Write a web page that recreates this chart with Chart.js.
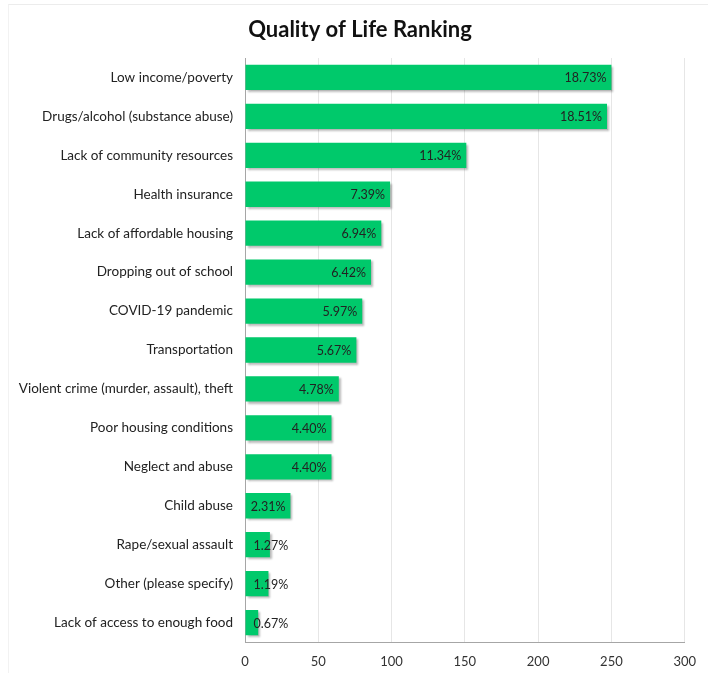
<!DOCTYPE html>
<html>
<head>
<meta charset="utf-8">
<script src="https://cdn.jsdelivr.net/npm/chart.js@4"></script>
<style>
  html, body { margin: 0; padding: 0; background: #fff; }
  #wrap { position: relative; width: 708px; height: 673px; }
  #frame { position: absolute; left: 8px; top: 4px; right: 0; bottom: 0; border-top: 1px solid #ececec; border-left: 1px solid #f2f2f2; pointer-events: none; }
  canvas { position: absolute; left: 0; top: 0; }
</style>
</head>
<body>
<div id="wrap">
  <canvas id="chart" width="708" height="673"></canvas>
  <div id="frame"></div>
</div>
<script>
// --- data ---
const chartTitle = 'Quality of Life Ranking';
const categories = [
    'Low income/poverty',
    'Drugs/alcohol (substance abuse)',
    'Lack of community resources',
    'Health insurance',
    'Lack of affordable housing',
    'Dropping out of school',
    'COVID-19 pandemic',
    'Transportation',
    'Violent crime (murder, assault), theft',
    'Poor housing conditions',
    'Neglect and abuse',
    'Child abuse',
    'Rape/sexual assault',
    'Other (please specify)',
    'Lack of access to enough food'
];
const counts = [250, 247, 151, 99, 93, 86, 80, 76, 64, 59, 59, 31, 17, 16, 9];
const percentLabels = ['18.73%', '18.51%', '11.34%', '7.39%', '6.94%', '6.42%', '5.97%', '5.67%',
    '4.78%', '4.40%', '4.40%', '2.31%', '1.27%', '1.19%', '0.67%'];
const xTicks = [0, 50, 100, 150, 200, 250, 300];

const fontFamily = 'Lato, "Open Sans", sans-serif';

// shadow under the bars
const barShadow = {
    id: 'barShadow',
    beforeDatasetsDraw(chart) {
        const ctx = chart.ctx;
        ctx.save();
        ctx.shadowColor = 'rgba(0, 0, 0, 0.28)';
        ctx.shadowOffsetX = 2;
        ctx.shadowOffsetY = 2;
        ctx.shadowBlur = 2;
    },
    afterDatasetsDraw(chart) {
        chart.ctx.restore();
    }
};

// title (drawn a bit right of the canvas centre, as in the original)
const titleText = {
    id: 'titleText',
    afterDraw(chart) {
        const ctx = chart.ctx;
        ctx.save();
        ctx.font = 'bold 22px ' + fontFamily;
        ctx.fillStyle = '#111';
        ctx.textAlign = 'center';
        ctx.textBaseline = 'middle';
        ctx.fillText(chartTitle, 360, 30);
        ctx.restore();
    }
};

// percent labels, inside end or at the base when the bar is short
const valueLabels = {
    id: 'valueLabels',
    afterDraw(chart) {
        const ctx = chart.ctx;
        const meta = chart.getDatasetMeta(0);
        ctx.save();
        ctx.font = '12.5px ' + fontFamily;
        ctx.fillStyle = '#222';
        ctx.textBaseline = 'middle';
        meta.data.forEach((bar, i) => {
            const txt = percentLabels[i];
            const w = ctx.measureText(txt).width;
            const len = bar.x - bar.base;
            if (len - 10 >= w) {
                ctx.textAlign = 'right';
                ctx.fillText(txt, bar.x - 5, bar.y + 1);
            } else {
                ctx.textAlign = 'left';
                ctx.fillText(txt, bar.base + 8, bar.y + 1);
            }
        });
        ctx.restore();
    }
};

new Chart(document.getElementById('chart'), {
    type: 'bar',
    data: {
        labels: categories,
        datasets: [{
            data: counts,
            backgroundColor: '#00C96B',
            borderWidth: 0,
            barPercentage: 0.65,
            categoryPercentage: 1.0
        }]
    },
    options: {
        indexAxis: 'y',
        responsive: false,
        animation: false,
        layout: { padding: { top: 58, left: 10, right: 20, bottom: 0 } },
        plugins: {
            legend: { display: false },
            tooltip: { enabled: false },
            title: { display: false }
        },
        scales: {
            x: {
                min: 0,
                max: 300,
                afterBuildTicks: (s) => { s.ticks = xTicks.map(v => ({ value: v })); },
                afterFit: (s) => { s.height = 31; },
                grid: { color: '#e6e6e6', drawTicks: false },
                border: { color: '#a6a6a6', width: 1 },
                ticks: {
                    color: '#333',
                    padding: 12,
                    font: { family: fontFamily, size: 13 }
                }
            },
            y: {
                afterFit: (s) => { s.width = 235; },
                grid: { display: false, drawTicks: false },
                border: { color: '#a6a6a6', width: 1 },
                ticks: {
                    color: '#222',
                    padding: 12,
                    font: { family: fontFamily, size: 13.5 }
                }
            }
        }
    },
    plugins: [barShadow, valueLabels, titleText]
});
</script>
</body>
</html>
